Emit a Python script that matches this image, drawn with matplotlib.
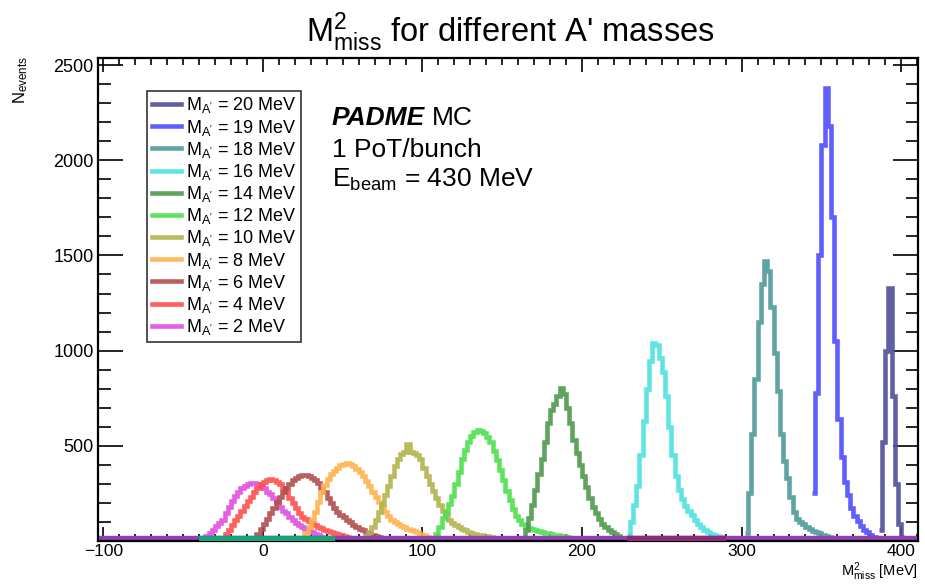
import matplotlib
matplotlib.use("Agg")
import matplotlib.pyplot as plt
import numpy as np
from matplotlib.ticker import MultipleLocator

plt.rcParams['font.family'] = ['Liberation Sans', 'DejaVu Sans']
plt.rcParams['mathtext.fontset'] = 'custom'
plt.rcParams['mathtext.rm'] = 'Liberation Sans'
plt.rcParams['mathtext.it'] = 'Liberation Sans:italic'
plt.rcParams['mathtext.bf'] = 'Liberation Sans:bold'

# bin width 2 MeV, each histogram: first bin edge + counts
bin_w = 2

masses = [20, 19, 18, 16, 14, 12, 10, 8, 6, 4, 2]
colors = ['#4f4f99', '#4d4dff', '#4d9999', '#4de0e0', '#4d994d', '#4de04d',
          '#b3b34d', '#ffb34d', '#b34d4d', '#ff4d4d', '#e04de0']

start_20 = 386
counts_20 = [60, 520, 1000, 1330, 760, 300, 90, 20]

start_19 = 344
counts_19 = [250, 780, 1500, 2080, 2380, 2180, 1700, 1050, 640, 440, 310,
             240, 175, 130, 105, 80, 60, 45, 32, 22, 14, 8]

start_18 = 302
counts_18 = [40, 250, 560, 850, 1150, 1350, 1470, 1420, 1230, 990, 790, 560,
             420, 330, 230, 150, 118, 100, 88, 75, 64, 55, 47, 40, 34, 28,
             22, 17, 12, 7]

start_16 = 228
counts_16 = [30, 100, 190, 290, 450, 630, 800, 945, 1040, 1030, 960, 890, 760,
             600, 450, 340, 270, 220, 185, 160, 135, 112, 92, 75, 60, 48, 38,
             30, 25, 20, 17, 14, 11, 9, 6, 4]

start_14 = 162
counts_14 = [15, 60, 120, 190, 270, 350, 430, 520, 620, 690, 720, 760, 805,
             770, 700, 620, 530, 460, 400, 340, 285, 225, 180, 145, 115, 92,
             74, 60, 48, 38, 28, 18, 8]

start_12 = 106
counts_12 = [8, 35, 75, 120, 155, 195, 235, 300, 365, 430, 480, 520, 552, 572,
             582, 578, 565, 545, 518, 475, 425, 372, 320, 265, 215, 170, 130,
             108, 92, 80, 70, 62, 56, 50, 46, 43, 40, 37, 34, 31, 28, 25, 20,
             14, 8]

start_10 = 62
counts_10 = [10, 25, 48, 73, 110, 150, 195, 240, 290, 340, 395, 432, 455, 470,
             510, 468, 462, 452, 430, 385, 340, 300, 262, 225, 190, 160, 135,
             112, 94, 82, 72, 64, 56, 48, 42, 37, 33, 30, 27, 24, 20, 16, 12,
             9, 5]

start_8 = 24
counts_8 = [10, 40, 75, 110, 155, 205, 255, 295, 328, 352, 370, 385, 398, 405,
            408, 405, 395, 380, 362, 340, 315, 288, 260, 232, 205, 180, 155,
            132, 112, 98, 88, 80, 72, 65, 58, 52, 45, 37, 29, 20, 10]

start_6 = -6
counts_6 = [12, 35, 62, 90, 118, 145, 175, 205, 232, 255, 280, 302, 318, 330,
            340, 345, 346, 340, 332, 322, 305, 280, 255, 228, 200, 175, 155,
            138, 125, 112, 98, 85, 74, 65, 56, 48, 41, 34, 28, 22, 17, 12, 7]

start_4 = -26
counts_4 = [10, 35, 60, 85, 108, 130, 160, 185, 210, 232, 258, 280, 300, 312,
            322, 324, 318, 310, 300, 280, 255, 228, 200, 172, 148, 128, 115,
            104, 94, 85, 76, 68, 60, 53, 46, 40, 35, 30, 26, 21, 16, 10]

start_2 = -38
counts_2 = [8, 25, 42, 60, 78, 96, 112, 145, 180, 212, 235, 258, 276, 290,
            300, 305, 303, 298, 290, 276, 260, 245, 225, 205, 180, 160, 145,
            125, 108, 94, 84, 74, 64, 55, 47, 38, 30, 22, 15, 8]

starts = [start_20, start_19, start_18, start_16, start_14, start_12,
          start_10, start_8, start_6, start_4, start_2]
counts = [counts_20, counts_19, counts_18, counts_16, counts_14, counts_12,
          counts_10, counts_8, counts_6, counts_4, counts_2]

# zero-level segments visible along the bottom
base_x = [-103.3, 410.5]
green_x = [-40, 45]
maroon_x = [228, 290]

fig = plt.figure(figsize=(9.25, 5.84), dpi=100)
ax = fig.add_axes([0.1059, 0.0736, 0.8865, 0.8271])

for c, n in reversed(list(zip(colors, range(len(colors))))):
    cnt = np.array(counts[n], dtype=float)
    edges = starts[n] + bin_w * np.arange(len(cnt) + 1)
    ax.stairs(cnt, edges, color=c, lw=3.3, alpha=0.9, baseline=None, zorder=2)

ax.plot(base_x, [0, 0], color='#9040b0', lw=7.5, solid_capstyle='butt', zorder=2.5)
ax.plot(green_x, [0, 0], color='#16a37a', lw=7.5, solid_capstyle='butt', zorder=2.6)
ax.plot(maroon_x, [0, 0], color='#8a2a78', lw=7.5, solid_capstyle='butt', zorder=2.6)

# legend handles in listed order
handles = []
for m, c in zip(masses, colors):
    h, = ax.plot([], [], color=c, lw=3.3, alpha=0.9,
                 label=r"M$_{\mathrm{A'}}$ = %d MeV" % m)
    handles.append(h)
leg = ax.legend(handles=handles, loc='upper left', bbox_to_anchor=(0.06, 0.932),
                fontsize=13, frameon=True, fancybox=False, edgecolor='black',
                handlelength=1.6, handletextpad=0.3, labelspacing=0.12,
                borderpad=0.25, borderaxespad=0)
leg.get_frame().set_linewidth(1.2)

ax.set_xlim(-103.3, 410.5)
ax.set_ylim(0, 2537)

ax.xaxis.set_major_locator(MultipleLocator(100))
ax.xaxis.set_minor_locator(MultipleLocator(10))
ax.set_yticks([500, 1000, 1500, 2000, 2500])
ax.yaxis.set_minor_locator(MultipleLocator(100))

ax.tick_params(axis='both', which='both', direction='in', top=True, right=True,
               labelsize=13, width=1.2, color='black')
ax.tick_params(axis='x', which='major', length=10, pad=2, labelsize=12.5)
ax.tick_params(axis='x', which='minor', length=5)
ax.tick_params(axis='y', which='major', length=18, pad=3)
ax.tick_params(axis='y', which='minor', length=9)
for sp in ax.spines.values():
    sp.set_linewidth(1.6)

fig.text(0.5514, 0.945, r"M$^{2}_{\mathrm{miss}}$ for different A' masses",
         ha='center', va='center', fontsize=23.5)
fig.text(0.9924, 0.001, r"M$^{2}_{\mathrm{miss}}$ [MeV]", ha='right', va='bottom',
         fontsize=10.5)
fig.text(0.022, 0.905, r"N$_{\mathrm{events}}$", ha='center', va='top',
         rotation=90, fontsize=12)

t1 = ax.text(0.285, 0.876, "PADME", transform=ax.transAxes, fontsize=19,
             fontweight='bold', fontstyle='italic', va='center', ha='left')
fig.canvas.draw()
bb = t1.get_window_extent().transformed(ax.transAxes.inverted())
ax.text(bb.x1 + 0.008, 0.876, "MC", transform=ax.transAxes, fontsize=19,
        va='center', ha='left')
ax.text(0.285, 0.810, "1 PoT/bunch", transform=ax.transAxes, fontsize=19,
        va='center', ha='left')
ax.text(0.285, 0.747, r"E$_{\mathrm{beam}}$ = 430 MeV", transform=ax.transAxes,
        fontsize=19, va='center', ha='left')

fig.savefig("out.png", dpi=100)
